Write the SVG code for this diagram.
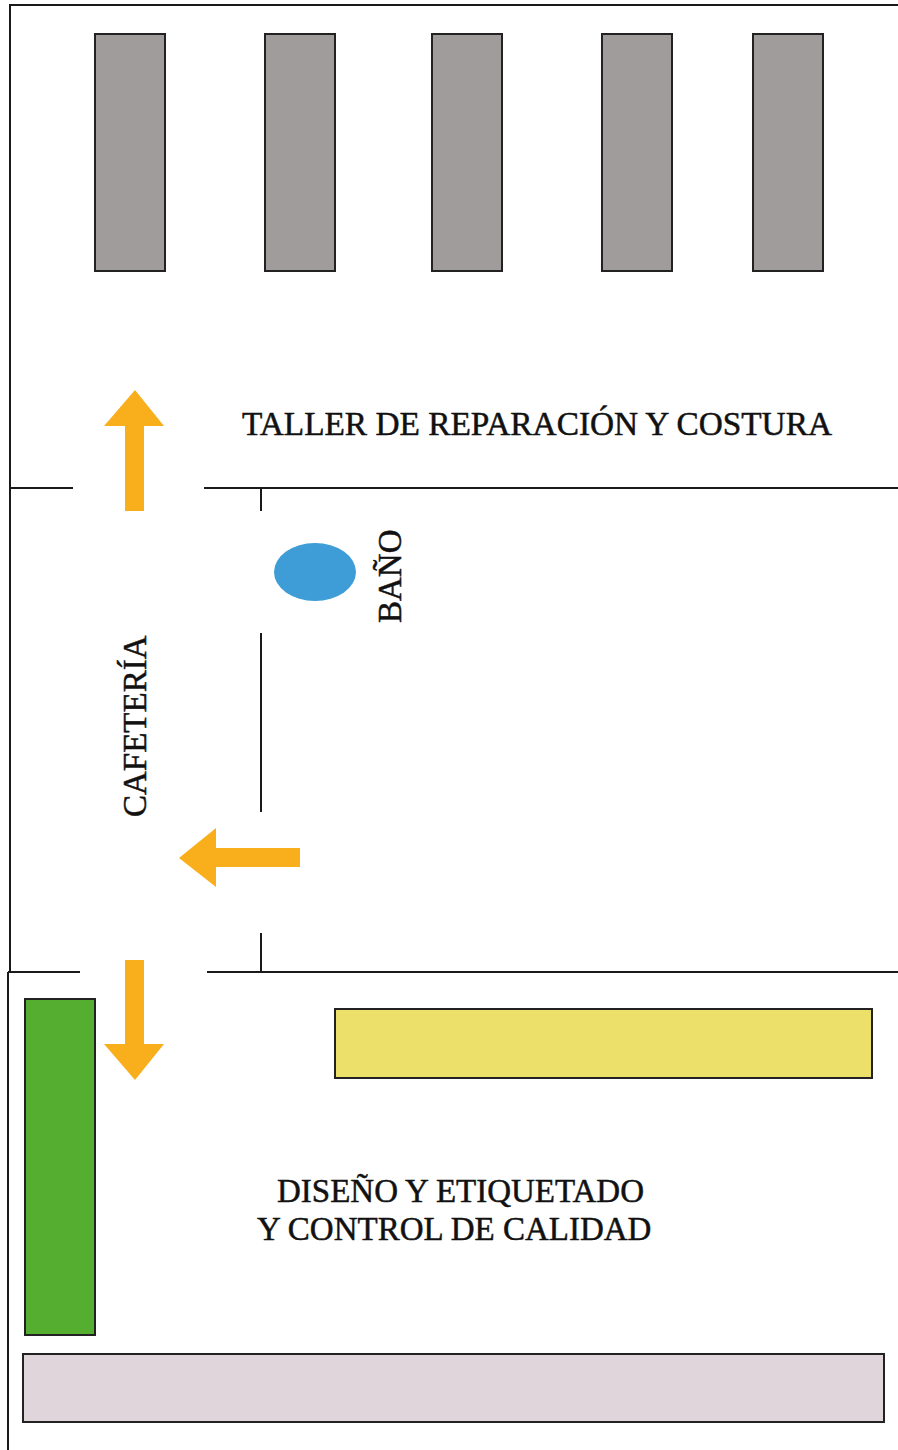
<svg xmlns="http://www.w3.org/2000/svg" width="898" height="1450" viewBox="0 0 898 1450">
<style>
.wall{stroke:#1a1a1a;stroke-width:2;fill:none}
.furn{stroke:#222;stroke-width:2}
.arrow{fill:#f9ae1c}
.lbl{font-family:"Liberation Serif","Times New Roman",serif;font-size:33px;fill:#111;stroke:#111;stroke-width:0.5}
</style>
<rect x="0" y="0" width="898" height="1450" fill="#fff"/>
<g id="walls">
<path class="wall" d="M9,5 H898 M10,5 V972 M10,488 H73 M204,488 H898 M261,488 V511 M261,633 V812 M261,933 V972 M8,972 H80 M207,972 H898 M8,972 V1450"/>
</g>
<g id="machines">
<rect class="furn" x="95" y="34" width="70" height="237" fill="#a09c9c"/>
<rect class="furn" x="265" y="34" width="70" height="237" fill="#a09c9c"/>
<rect class="furn" x="432" y="34" width="70" height="237" fill="#a09c9c"/>
<rect class="furn" x="602" y="34" width="70" height="237" fill="#a09c9c"/>
<rect class="furn" x="753" y="34" width="70" height="237" fill="#a09c9c"/>
</g>
<g id="taller-label">
<text class="lbl" x="242" y="435" textLength="590" lengthAdjust="spacingAndGlyphs">TALLER DE REPARACIÓN Y COSTURA</text>
</g>
<g id="bano">
<ellipse cx="315" cy="572" rx="41" ry="29" fill="#3e9dd7"/>
<text class="lbl" transform="translate(401,623) rotate(-90)">BAÑO</text>
</g>
<g id="cafeteria-label">
<text class="lbl" transform="translate(146,817) rotate(-90)">CAFETERÍA</text>
</g>
<g id="arrows">
<polygon class="arrow" points="135,390 164,426 144,426 144,511 125,511 125,426 104,426"/>
<polygon class="arrow" points="179,858 216,828 216,848 300,848 300,867 216,867 216,887"/>
<polygon class="arrow" points="135,1080 164,1044 144,1044 144,960 125,960 125,1044 104,1044"/>
</g>
<g id="furniture-bottom">
<rect class="furn" x="25" y="999" width="70" height="336" fill="#55ae30"/>
<rect class="furn" x="335" y="1009" width="537" height="69" fill="#ede06a"/>
<rect class="furn" x="23" y="1354" width="861" height="68" fill="#dfd5db"/>
</g>
<g id="diseno-label">
<text class="lbl" x="277" y="1202">DISEÑO Y ETIQUETADO</text>
<text class="lbl" x="257" y="1240">Y CONTROL DE CALIDAD</text>
</g>
</svg>
